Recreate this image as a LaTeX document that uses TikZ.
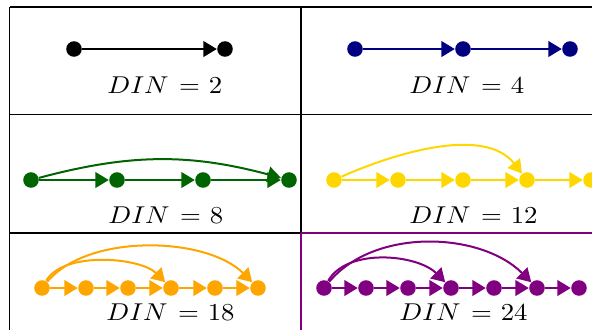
\documentclass[tikz,border=0pt]{standalone}
\usetikzlibrary{arrows.meta}
\definecolor{cnavy}{RGB}{0,0,128}
\definecolor{cgreen}{RGB}{0,100,0}
\definecolor{cgold}{RGB}{255,215,0}
\definecolor{corange}{RGB}{255,165,0}
\definecolor{cpurple}{RGB}{128,0,128}
\newcommand{\dinlab}[1]{$DIN\mskip7mu{=}\mskip6mu#1$}
\tikzset{
  dot/.style={circle,fill,inner sep=0pt,minimum size=7pt},
  arr/.style={-{Triangle[length=6pt,width=7pt]},line width=0.9pt},
  lbl/.style={anchor=base west,inner sep=0pt,font=\fontsize{10.95}{13}\selectfont,xscale=1.1},
  grid/.style={line width=0.55pt}
}
\begin{document}
\begin{tikzpicture}[x=0.45pt,y=-0.45pt]
\useasboundingbox (0,0) rectangle (592,329);
\clip (0,0) rectangle (592,329);
% table
\draw[grid] (9.5,7) -- (610,7);
\draw[grid] (9.5,114.5) -- (610,114.5);
\draw[grid] (9.5,233) -- (301,233);
\draw[grid] (9.5,7) -- (9.5,340);
\draw[grid] (301,7) -- (301,233);
\draw[grid,cpurple] (301,233) -- (610,233);
\draw[grid,cpurple] (301,233) -- (301,340);
% DIN = 2
\begin{scope}[black]
\node[dot] (a1) at (74,49) {};
\node[dot] (a2) at (225,49) {};
\draw[arr] (a1) -- (a2);
\node[lbl] (la) at (107,93) {\dinlab{2}};
\end{scope}
% DIN = 4
\begin{scope}[cnavy]
\node[dot] (b1) at (355,49) {};
\node[dot] (b2) at (463,49) {};
\node[dot] (b3) at (570,49) {};
\draw[arr] (b1) -- (b2);
\draw[arr] (b2) -- (b3);
\end{scope}
\node[lbl] (lb) at (409,93) {\dinlab{4}};
% DIN = 8
\begin{scope}[cgreen]
\node[dot] (c1) at (31,180) {};
\node[dot] (c2) at (117,180) {};
\node[dot] (c3) at (203,180) {};
\node[dot] (c4) at (289,180) {};
\draw[arr] (c1) -- (c2);
\draw[arr] (c2) -- (c3);
\draw[arr] (c3) -- (c4);
\draw[arr] (c1) to[bend left=15] (c4);
\end{scope}
\node[lbl] (lc) at (108,223) {\dinlab{8}};
% DIN = 12
\begin{scope}[cgold]
\node[dot] (d1) at (334,180) {};
\node[dot] (d2) at (398,180) {};
\node[dot] (d3) at (463,180) {};
\node[dot] (d4) at (527,180) {};
\node[dot] (d5) at (591,180) {};
\draw[arr] (d1) -- (d2);
\draw[arr] (d2) -- (d3);
\draw[arr] (d3) -- (d4);
\draw[arr] (d4) -- (d5);
\draw[arr] (d1) to[out=24,in=128,looseness=0.85] (d4);
\end{scope}
\node[lbl] (ld) at (409,223) {\dinlab{12}};
% DIN = 18
\begin{scope}[corange]
\node[dot] (e1) at (42,288) {};
\node[dot] (e2) at (86,288) {};
\node[dot] (e3) at (128,288) {};
\node[dot] (e4) at (171,288) {};
\node[dot] (e5) at (215,288) {};
\node[dot] (e6) at (258,288) {};
\draw[arr] (e1) -- (e2);
\draw[arr] (e2) -- (e3);
\draw[arr] (e3) -- (e4);
\draw[arr] (e4) -- (e5);
\draw[arr] (e5) -- (e6);
\draw[arr] (e1) to[out=60,in=135,looseness=0.75] (e4);
\draw[arr] (e1) to[out=50,in=135,looseness=0.8] (e6);
\end{scope}
\node[lbl] (le) at (106,320) {\dinlab{18}};
% DIN = 24
\begin{scope}[cpurple]
\node[dot] (f1) at (324,288) {};
\node[dot] (f2) at (366,288) {};
\node[dot] (f3) at (408,288) {};
\node[dot] (f4) at (451,288) {};
\node[dot] (f5) at (494,288) {};
\node[dot] (f6) at (537,288) {};
\node[dot] (f7) at (579,288) {};
\draw[arr] (f1) -- (f2);
\draw[arr] (f2) -- (f3);
\draw[arr] (f3) -- (f4);
\draw[arr] (f4) -- (f5);
\draw[arr] (f5) -- (f6);
\draw[arr] (f6) -- (f7);
\draw[arr] (f1) to[out=60,in=135,looseness=0.85] (f4);
\draw[arr] (f1) to[out=50,in=135,looseness=0.9] (f6);
\end{scope}
\node[lbl] (lf) at (399,320) {\dinlab{24}};
\end{tikzpicture}
\end{document}
